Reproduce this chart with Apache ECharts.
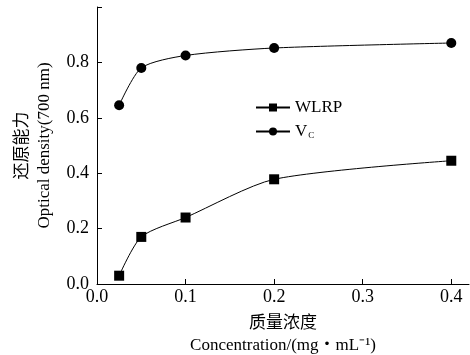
<!DOCTYPE html>
<html>
<head>
<meta charset="utf-8">
<script src="https://cdn.jsdelivr.net/npm/echarts@6/dist/echarts.min.js"></script>
<style>
  html, body { margin: 0; padding: 0; background: #fff; }
  #chart { width: 470px; height: 355px; }
</style>
</head>
<body>
<div id="chart"></div>
<script>
// concentration (mg/mL)
var concentration = [0.025, 0.05, 0.1, 0.2, 0.4];
var wlrp = [0.03, 0.17, 0.24, 0.378, 0.445];
var vc = [0.645, 0.78, 0.825, 0.852, 0.87];
var yTicks = ["0.0", "0.2", "0.4", "0.6", "0.8"];

var serif = '"Liberation Serif", "Noto Sans CJK SC", serif';

function pairs(xs, ys) {
  return xs.map(function (x, i) { return [x, ys[i]]; });
}

var myChart = echarts.init(document.getElementById("chart"));

var option = {
  animation: false,
  grid: {
    left: 97,
    right: 1,
    top: 7,
    bottom: 71,
    containLabel: false,
    outerBoundsMode: "none"
  },
  legend: {
    left: 250,
    top: 94,
    orient: "vertical",
    itemGap: 7,
    itemWidth: 34,
    itemHeight: 10,
    data: ["WLRP", "Vc"],
    formatter: function (name) {
      return name === "Vc" ? "{v|V}{s|C}" : "{v|" + name + "}";
    },
    textStyle: {
      color: "#000",
      fontFamily: serif,
      rich: {
        v: { fontSize: 17, fontFamily: serif, color: "#000" },
        s: { fontSize: 9, fontFamily: serif, color: "#000", padding: [8, 0, 0, 1] }
      }
    }
  },
  xAxis: {
    type: "value",
    min: 0,
    max: 0.42,
    interval: 0.1,
    name: "质量浓度\nConcentration/(mg・mL⁻¹)",
    nameLocation: "middle",
    nameGap: 29,
    nameTextStyle: {
      color: "#000",
      fontFamily: serif,
      fontSize: 17,
      lineHeight: 22
    },
    axisLine: { lineStyle: { color: "#000", width: 1 } },
    axisTick: { inside: true, length: 5, lineStyle: { color: "#000" } },
    splitLine: { show: false },
    axisLabel: {
      color: "#000",
      fontFamily: serif,
      fontSize: 18,
      margin: 4,
      showMaxLabel: false,
      formatter: function (v) { return v.toFixed(1); }
    }
  },
  yAxis: {
    type: "value",
    min: 0,
    max: 1.0,
    interval: 0.2,
    name: "还原能力\nOptical density(700 nm)",
    nameLocation: "middle",
    nameGap: 38,
    nameRotate: 90,
    nameTextStyle: {
      color: "#000",
      fontFamily: serif,
      fontSize: 17,
      lineHeight: 22
    },
    axisLine: { show: true, lineStyle: { color: "#000", width: 1 } },
    axisTick: { show: true, inside: true, length: 5, lineStyle: { color: "#000" } },
    splitLine: { show: false },
    axisLabel: {
      color: "#000",
      fontFamily: serif,
      fontSize: 18,
      margin: 8,
      formatter: function (v) {
        var i = Math.round(v / 0.2);
        return i < yTicks.length ? yTicks[i] : "";
      }
    }
  },
  series: [
    {
      name: "WLRP",
      type: "line",
      smooth: 0.25,
      symbol: "rect",
      symbolSize: 10,
      data: pairs(concentration, wlrp),
      lineStyle: { color: "#000", width: 1 },
      itemStyle: { color: "#000" }
    },
    {
      name: "Vc",
      type: "line",
      smooth: 0.25,
      symbol: "circle",
      symbolSize: 10,
      data: pairs(concentration, vc),
      lineStyle: { color: "#000", width: 1 },
      itemStyle: { color: "#000" }
    }
  ]
};

myChart.setOption(option);
</script>
</body>
</html>
